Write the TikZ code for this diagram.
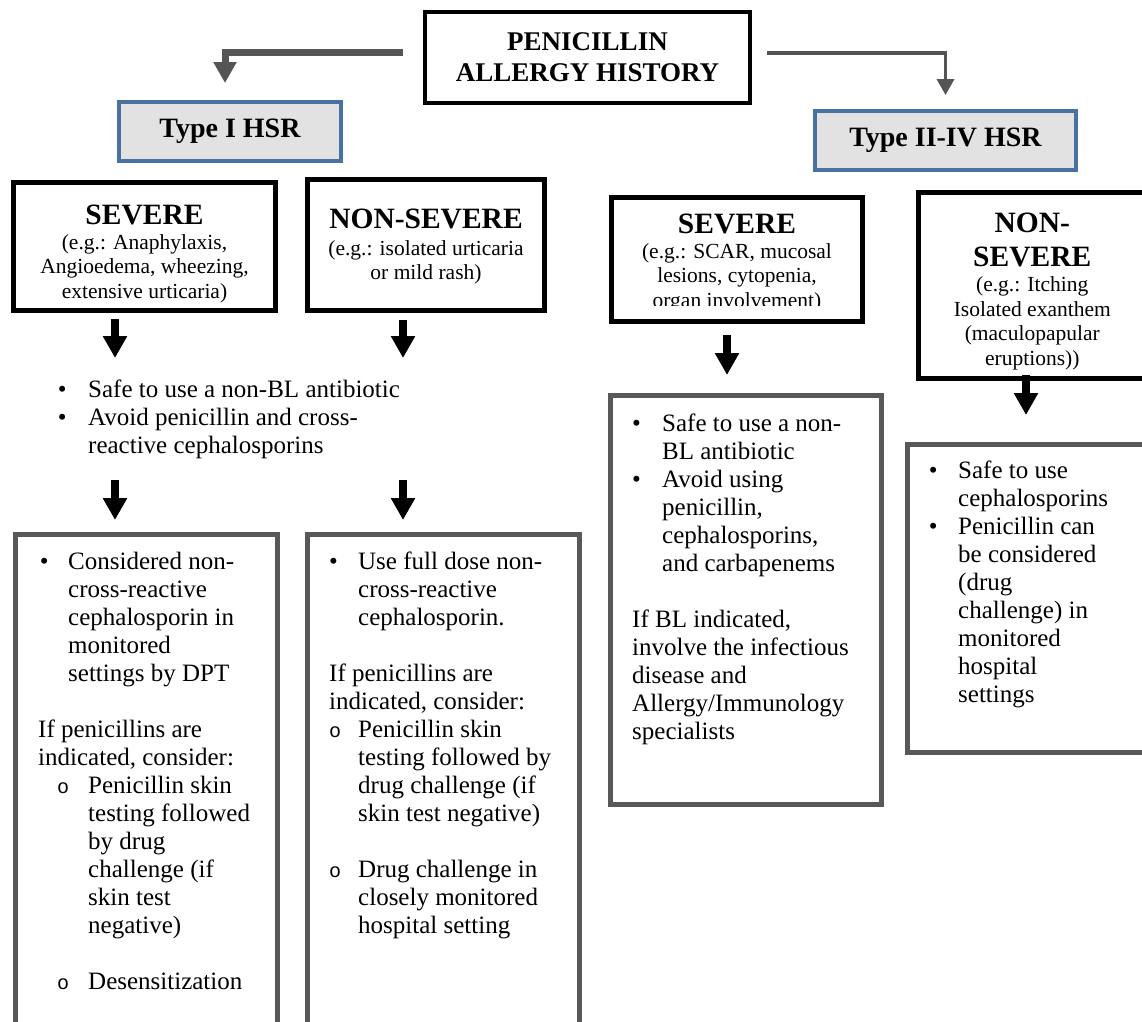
\documentclass[tikz,border=0pt]{standalone}
\usepackage{fontspec}
\setmainfont{Liberation Serif}
\newfontfamily\monof{Liberation Mono}
\usetikzlibrary{arrows.meta}
\definecolor{hsrblue}{RGB}{74,114,160}
\definecolor{hsrfill}{RGB}{226,226,226}
\definecolor{arrgray}{RGB}{85,85,85}
\definecolor{boxgray}{RGB}{88,88,88}
\newcommand\hdrf{\bfseries\fontsize{29.5}{33}\selectfont}
\newcommand\subf{\fontsize{21.5}{24.5}\selectfont}
\newcommand\bodyf{\fontsize{25}{28}\selectfont}
\newcommand\bu[3]{\makebox[#2][l]{\hspace*{#1}\textbullet}#3}
\newcommand\so[3]{\makebox[#2][l]{\hspace*{#1}{\monof\fontsize{20}{20}\selectfont o}}#3}
\newcommand\ct[2]{\hspace*{#1}#2}
\newcommand\lowr[2]{\raisebox{-#1}[\height][\depth]{#2}}
\tikzset{
  blkbox/.style={draw=black, line width=5pt, fill=white, inner sep=0pt, align=center, font=\subf},
  titlebox/.style={draw=black, line width=4.5pt, fill=white, inner sep=0pt, align=center, font=\bfseries\fontsize{27}{31}\selectfont},
  typebox/.style={draw=hsrblue, line width=4pt, fill=hsrfill, inner sep=0pt, align=center, font=\bfseries\fontsize{28}{30}\selectfont},
  panel/.style={draw=boxgray, line width=5pt, fill=white, inner sep=0pt},
  bodytext/.style={anchor=north west, inner sep=0pt, font=\bodyf},
  blkarrow/.style={draw=black, line width=8pt, -{Triangle[width=23pt,length=22pt]}},
  grayarrow/.style={draw=arrgray, line width=7pt, -{Triangle[width=22pt,length=21pt]}},
  thinarrow/.style={draw=arrgray, line width=3.5pt, -{Triangle[width=17pt,length=16pt]}}
}
\begin{document}
\begin{tikzpicture}[x=1pt,y=-1pt]
\useasboundingbox[fill=white] (0,0) rectangle (1142,1021);

% header and type boxes
\node[titlebox, minimum width=325pt, minimum height=91pt] (title) at (587.5,57.5) {PENICILLIN\\ALLERGY HISTORY};
\node[typebox, minimum width=222pt, minimum height=59pt] (type1) at (230,131.5) {Type I HSR};
\node[typebox, minimum width=261pt, minimum height=59pt] (type2) at (945.5,140.5) {Type II-IV HSR};

\draw[grayarrow] ([xshift=-20pt,yshift=5.5pt]title.west) -| ([xshift=-5pt,yshift=17pt]type1.north);
\draw[thinarrow] ([xshift=15pt,yshift=4.5pt]title.east) -| ([yshift=14pt]type2.north);

% severity boxes
\node[blkbox, minimum width=262pt, minimum height=128pt] (sevL) at (144.5,246.5)
  {\lowr{9pt}{\begin{tabular}{@{}c@{}}{\hdrf SEVERE}\\[0pt](e.g.: Anaphylaxis,\\Angioedema, wheezing,\\extensive urticaria)\end{tabular}}};
\node[blkbox, minimum width=237pt, minimum height=131pt] (nsL) at (426,245)
  {\lowr{3pt}{\begin{tabular}{@{}c@{}}{\hdrf NON-SEVERE}\\[2pt](e.g.: isolated urticaria\\or mild rash)\end{tabular}}};
\node[blkbox, minimum width=251pt, minimum height=124pt] (sevR) at (737,259.5) {};
\begin{scope}
  \clip (611.5,197.5) rectangle (862.5,305);
  \node[inner sep=0pt, font=\subf] (sevRtext) at ([yshift=-5pt]sevR.center)
    {\begin{tabular}{@{}c@{}}{\hdrf SEVERE}\\[0pt](e.g.: SCAR, mucosal\\lesions, cytopenia,\\organ involvement)\end{tabular}};
\end{scope}
\node[blkbox, minimum width=227.5pt, minimum height=186pt] (nsR) at (1032.25,285.5)
  {\lowr{7pt}{\begin{tabular}{@{}c@{}}{\hdrf NON-}\\[7pt]{\hdrf SEVERE}\\[1pt](e.g.: Itching\\Isolated exanthem\\(maculopapular\\eruptions))\end{tabular}}};

% arrows from severity boxes
\draw[blkarrow] ([xshift=-29.5pt,yshift=-6pt]sevL.south) -- ([xshift=-29.5pt,yshift=-45pt]sevL.south);
\draw[blkarrow] ([xshift=-23pt,yshift=-7pt]nsL.south) -- ([xshift=-23pt,yshift=-45pt]nsL.south);

% middle text
\node[bodytext] (mid) at (57.6,377.4)
  {\begin{tabular}{@{}l@{}}\bu{0pt}{30.4pt}{Safe to use a non-BL antibiotic}\\
   \bu{0pt}{30.4pt}{Avoid penicillin and cross-}\\
   \ct{30.4pt}{reactive cephalosporins}\end{tabular}};

% bottom panels
\node[panel, minimum width=262pt, minimum height=495.5pt] (botL1) at (146.5,782.25) {};
\node[panel, minimum width=272pt, minimum height=495.5pt] (botL2) at (443.5,782.25) {};
\node[panel, minimum width=271pt, minimum height=409pt] (botR1) at (746,600) {};
\node[panel, minimum width=242.5pt, minimum height=308pt] (botR2) at (1028.75,598.5) {};

\draw[blkarrow] ([xshift=-31.5pt,yshift=52pt]botL1.north) -- ([xshift=-31.5pt,yshift=12pt]botL1.north);
\draw[blkarrow] ([xshift=-40.5pt,yshift=52pt]botL2.north) -- ([xshift=-40.5pt,yshift=12pt]botL2.north);
\draw[blkarrow] ([xshift=-10pt,yshift=-11pt]sevR.south) -- ([xshift=-10pt,yshift=-51pt]sevR.south);
\draw[blkarrow] ([xshift=-6.25pt,yshift=6pt]nsR.south) -- ([xshift=-6.25pt,yshift=-34pt]nsR.south);

\node[bodytext] (txtL1) at (38,549.4)
  {\begin{tabular}{@{}l@{}}\bu{1.6pt}{30pt}{Considered non-}\\
   \ct{30pt}{cross-reactive}\\
   \ct{30pt}{cephalosporin in}\\
   \ct{30pt}{monitored}\\
   \ct{30pt}{settings by DPT}\\
   \\
   If penicillins are\\
   indicated, consider:\\
   \so{19pt}{50pt}{Penicillin skin}\\
   \ct{50pt}{testing followed}\\
   \ct{50pt}{by drug}\\
   \ct{50pt}{challenge (if}\\
   \ct{50pt}{skin test}\\
   \ct{50pt}{negative)}\\
   \\
   \so{19pt}{50pt}{Desensitization}\end{tabular}};

\node[bodytext] (txtL2) at (329,549.4)
  {\begin{tabular}{@{}l@{}}\bu{0pt}{29pt}{Use full dose non-}\\
   \ct{29pt}{cross-reactive}\\
   \ct{29pt}{cephalosporin.}\\
   \\
   If penicillins are\\
   indicated, consider:\\
   \so{0pt}{29pt}{Penicillin skin}\\
   \ct{29pt}{testing followed by}\\
   \ct{29pt}{drug challenge (if}\\
   \ct{29pt}{skin test negative)}\\
   \\
   \so{0pt}{29pt}{Drug challenge in}\\
   \ct{29pt}{closely monitored}\\
   \ct{29pt}{hospital setting}\end{tabular}};

\node[bodytext] (txtR1) at (632,411.4)
  {\begin{tabular}{@{}l@{}}\bu{0pt}{30pt}{Safe to use a non-}\\
   \ct{30pt}{BL antibiotic}\\
   \bu{0pt}{30pt}{Avoid using}\\
   \ct{30pt}{penicillin,}\\
   \ct{30pt}{cephalosporins,}\\
   \ct{30pt}{and carbapenems}\\
   \\
   If BL indicated,\\
   involve the infectious\\
   disease and\\
   Allergy/Immunology\\
   specialists\end{tabular}};

\node[bodytext] (txtR2) at (928.6,458.4)
  {\begin{tabular}{@{}l@{}}\bu{0pt}{29.4pt}{Safe to use}\\
   \ct{29.4pt}{cephalosporins}\\
   \bu{0pt}{29.4pt}{Penicillin can}\\
   \ct{29.4pt}{be considered}\\
   \ct{29.4pt}{(drug}\\
   \ct{29.4pt}{challenge) in}\\
   \ct{29.4pt}{monitored}\\
   \ct{29.4pt}{hospital}\\
   \ct{29.4pt}{settings}\end{tabular}};
\end{tikzpicture}
\end{document}
